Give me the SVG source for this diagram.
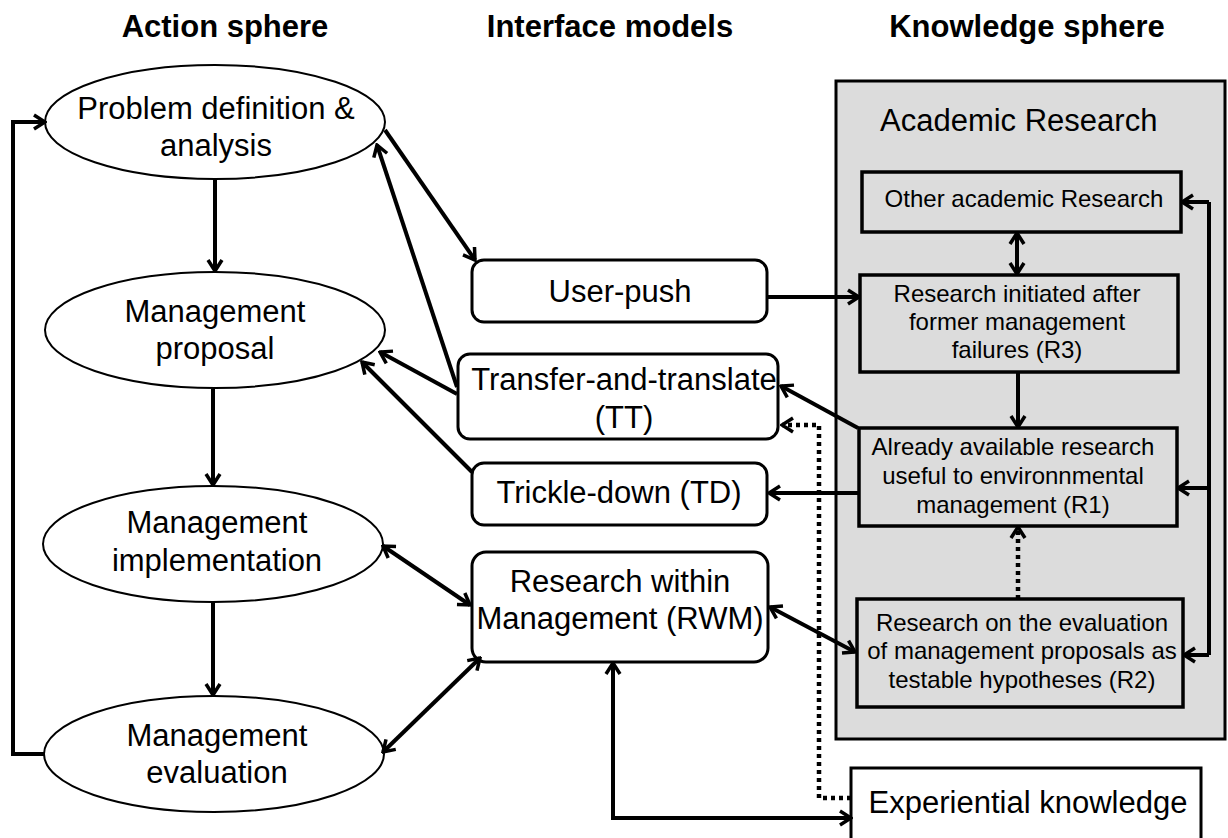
<svg xmlns="http://www.w3.org/2000/svg" width="1228" height="838" viewBox="0 0 1228 838">
<style>
text{font-family:"Liberation Sans",Arial,sans-serif;fill:#000}
.hd{font-size:31px;font-weight:bold;text-anchor:middle}
.t{font-size:31px;text-anchor:middle}
.s{font-size:24px;text-anchor:middle}
.el{fill:#fff;stroke:#000;stroke-width:2}
.rb{fill:#fff;stroke:#000;stroke-width:3}
.ib{fill:#dcdcdc;stroke:#000;stroke-width:3.5}
.c{fill:none;stroke:#000;stroke-width:4}
.d{fill:none;stroke:#000;stroke-width:4.5;stroke-dasharray:4 4}
</style>
<defs>
<marker id="ah" viewBox="0 0 16 18" refX="14" refY="9" markerWidth="16" markerHeight="18" markerUnits="userSpaceOnUse" orient="auto-start-reverse">
<path d="M3,2 L14,9 L3,16" fill="none" stroke="#000" stroke-width="3.5"/>
</marker>
</defs>
<g id="headers">
<text class="hd" x="225" y="37">Action sphere</text>
<text class="hd" x="610" y="37">Interface models</text>
<text class="hd" x="1027" y="37">Knowledge sphere</text>
</g>
<g id="academic">
<rect x="836" y="81" width="389" height="658" fill="#dcdcdc" stroke="#000" stroke-width="3"/>
<text x="880" y="131" style="font-size:31px">Academic Research</text>
</g>
<g id="problem"><ellipse class="el" cx="215" cy="122" rx="170" ry="57"/><text class="t" x="216" y="119">Problem definition &amp;</text><text class="t" x="216" y="156">analysis</text></g>
<g id="proposal"><ellipse class="el" cx="215" cy="330" rx="170" ry="58"/><text class="t" x="215" y="322">Management</text><text class="t" x="215" y="359">proposal</text></g>
<g id="implementation"><ellipse class="el" cx="213" cy="544" rx="170" ry="58"/><text class="t" x="217" y="533">Management</text><text class="t" x="217" y="571">implementation</text></g>
<g id="evaluation"><ellipse class="el" cx="214" cy="754" rx="170" ry="58"/><text class="t" x="217" y="746">Management</text><text class="t" x="217" y="783">evaluation</text></g>
<g id="userpush"><rect class="rb" x="472" y="260" width="295" height="62" rx="12"/><text class="t" x="620" y="302">User-push</text></g>
<g id="tt"><rect class="rb" x="458" y="354" width="320" height="85" rx="12"/><text class="t" x="624" y="390">Transfer-and-translate</text><text class="t" x="624" y="428">(TT)</text></g>
<g id="td"><rect class="rb" x="472" y="463" width="295" height="62" rx="12"/><text class="t" x="619" y="503">Trickle-down (TD)</text></g>
<g id="rwm"><rect class="rb" x="472" y="552" width="296" height="110" rx="14"/><text class="t" x="620" y="592">Research within</text><text class="t" x="620" y="629">Management (RWM)</text></g>
<g id="other"><rect class="ib" x="862" y="172" width="319" height="60"/><text class="s" x="1024" y="207">Other academic Research</text></g>
<g id="r3"><rect class="ib" x="860" y="275" width="318" height="97"/><text class="s" x="1017" y="302">Research initiated after</text><text class="s" x="1017" y="330">former management</text><text class="s" x="1017" y="358">failures (R3)</text></g>
<g id="r1"><rect class="ib" x="859" y="428" width="318" height="98"/><text class="s" x="1013" y="455">Already available research</text><text class="s" x="1013" y="484">useful to environnmental</text><text class="s" x="1013" y="513">management (R1)</text></g>
<g id="r2"><rect class="ib" x="857" y="599" width="326" height="108"/><text class="s" x="1022" y="631">Research on the evaluation</text><text class="s" x="1022" y="659">of management proposals as</text><text class="s" x="1022" y="688">testable hypotheses (R2)</text></g>
<g id="experiential"><rect x="851" y="768" width="350" height="90" fill="#fff" stroke="#000" stroke-width="3"/><text class="t" x="1028" y="813">Experiential knowledge</text></g>
<g id="connectors">
<path class="c" d="M45,754 H13 V122 H45" marker-end="url(#ah)"/>
<path class="c" d="M215,180 V271" marker-end="url(#ah)"/>
<path class="c" d="M213,389 V485" marker-end="url(#ah)"/>
<path class="c" d="M213,603 V695" marker-end="url(#ah)"/>
<path class="c" d="M385,130 L475,260" marker-end="url(#ah)"/>
<path class="c" d="M457,387 L377,145" marker-end="url(#ah)"/>
<path class="c" d="M457,394 L380,352" marker-end="url(#ah)"/>
<path class="c" d="M472,472 L362,362" marker-end="url(#ah)"/>
<path class="c" d="M858,428 L781,386" marker-end="url(#ah)"/>
<path class="c" d="M859,493 L769,493" marker-end="url(#ah)"/>
<path class="c" d="M767,297 L859,297" marker-end="url(#ah)"/>
<path class="d" d="M851,798 H819 V425 H782" marker-end="url(#ah)"/>
<path class="c" d="M851,818 H613 V663" marker-start="url(#ah)" marker-end="url(#ah)"/>
<path class="c" d="M770,607 L855,652" marker-start="url(#ah)" marker-end="url(#ah)"/>
<path class="c" d="M383,546 L470,605" marker-start="url(#ah)" marker-end="url(#ah)"/>
<path class="c" d="M383,752 L480,658" marker-start="url(#ah)" marker-end="url(#ah)"/>
<path class="c" d="M1017,233 V274" marker-start="url(#ah)" marker-end="url(#ah)"/>
<path class="c" d="M1018,372 V427" marker-end="url(#ah)"/>
<path class="d" d="M1018,599 V527" marker-end="url(#ah)"/>
<path class="c" d="M1209,202 V655"/>
<path class="c" d="M1209,202 H1182" marker-end="url(#ah)"/>
<path class="c" d="M1209,488 H1178" marker-end="url(#ah)"/>
<path class="c" d="M1209,655 H1184" marker-end="url(#ah)"/>
</g>
</svg>
